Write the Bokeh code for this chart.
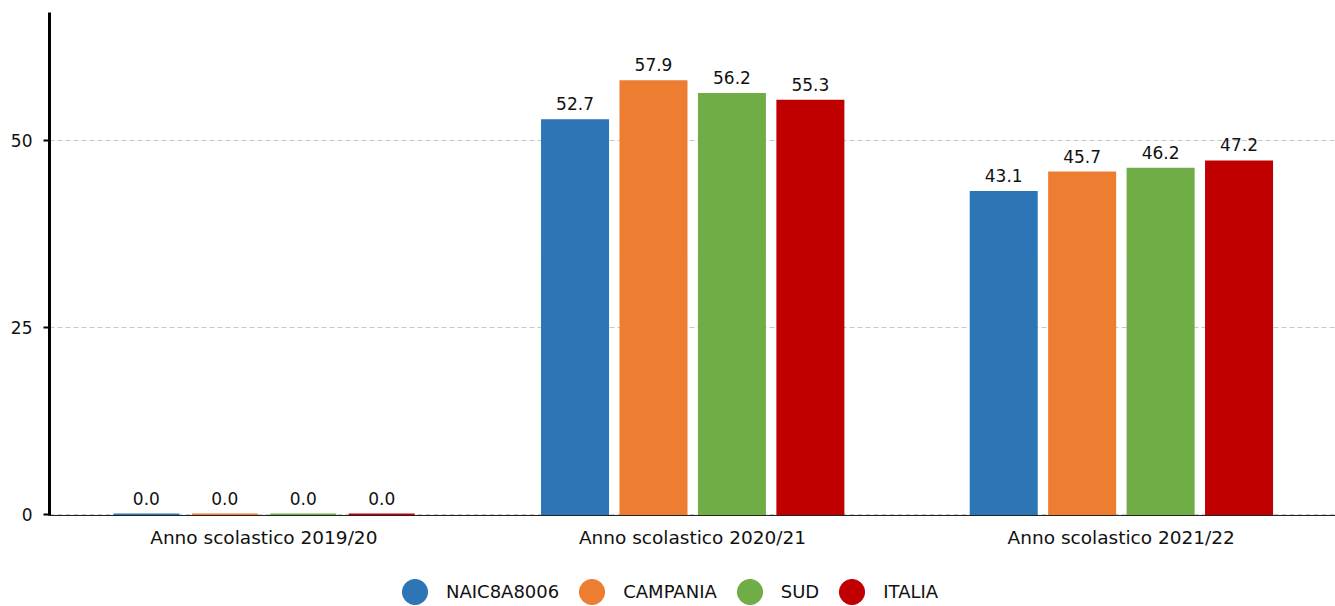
from bokeh.plotting import figure
from bokeh.models import ColumnDataSource, Legend, LegendItem, FactorRange, Range1d, FixedTicker
from bokeh.layouts import column
from bokeh.transform import dodge
from bokeh.core.properties import value
from bokeh.embed import file_html
from bokeh.resources import INLINE

categories = ["Anno scolastico 2019/20", "Anno scolastico 2020/21", "Anno scolastico 2021/22"]
series = ["NAIC8A8006", "CAMPANIA", "SUD", "ITALIA"]
naic = [0.0, 52.7, 43.1]
campania = [0.0, 57.9, 45.7]
sud = [0.0, 56.2, 46.2]
italia = [0.0, 55.3, 47.2]
colors = ["#2E75B6", "#ED7D31", "#70AD47", "#C00000"]
y_ticks = [0, 25, 50]

FONT = "DejaVu Sans"
W = 1335

values = [naic, campania, sud, italia]
data = {"cat": categories}
for name, vals in zip(series, values):
    data[name] = vals
    data[name + "_lbl"] = ["%.1f" % v for v in vals]
source = ColumnDataSource(data)

p = figure(
    x_range=FactorRange(*categories, range_padding=0),
    y_range=Range1d(-0.13, 67.1),
    width=W, height=570,
    output_backend="svg", toolbar_location=None,
    min_border_left=49, min_border_right=0, min_border_top=12, min_border_bottom=55,
)
p.outline_line_color = None

offsets = [-0.274, -0.091, 0.092, 0.275]
bar_w = 0.154

for name, off, col in zip(series, offsets, colors):
    p.vbar(x=dodge("cat", off, range=p.x_range), top=name, bottom=0, width=bar_w, source=source,
           fill_color=col, line_color=col, line_width=2, line_join="miter")
    p.text(x=dodge("cat", off, range=p.x_range), y=name, text=name + "_lbl", source=source,
           text_align="center", text_baseline="bottom", y_offset=-10,
           text_font=value(FONT), text_font_size="17px", text_color="#111111")

# axes
p.yaxis.ticker = FixedTicker(ticks=y_ticks)
p.yaxis.axis_line_width = 3
p.yaxis.axis_line_color = "black"
p.yaxis.major_tick_line_width = 2
p.yaxis.major_tick_line_color = "black"
p.yaxis.major_tick_out = 6
p.yaxis.major_tick_in = 0
p.yaxis.minor_tick_line_color = None
p.yaxis.major_label_standoff = 11
p.yaxis.major_label_text_font = FONT
p.yaxis.major_label_text_font_size = "17px"
p.yaxis.major_label_text_color = "#111111"

p.xaxis.axis_line_color = "#222222"
p.xaxis.axis_line_width = 1
p.xaxis.major_tick_line_color = None
p.xaxis.minor_tick_line_color = None
p.xaxis.major_label_standoff = 5
p.xaxis.major_label_text_font = FONT
p.xaxis.major_label_text_font_size = "18.5px"
p.xaxis.major_label_text_color = "#111111"

p.xgrid.grid_line_color = None
p.ygrid.ticker = FixedTicker(ticks=y_ticks)
p.ygrid.grid_line_color = "#c8c8c8"
p.ygrid.grid_line_dash = "5 3"
p.ygrid.grid_line_width = 1

# legend strip
lg = figure(width=W, height=36, x_range=Range1d(0, 1), y_range=Range1d(0, 1),
            output_backend="svg", toolbar_location=None,
            min_border=0, min_border_left=0, min_border_right=0, min_border_top=0, min_border_bottom=0)
lg.axis.visible = False
lg.grid.visible = False
lg.outline_line_color = None
items = []
for name, col in zip(series, colors):
    r = lg.scatter(x=[-5], y=[-5], marker="circle", fill_color=col, line_color=col)
    items.append(LegendItem(label=name, renderers=[r]))
legend = Legend(items=items, orientation="horizontal", location=(334, -17),
                glyph_width=63, glyph_height=63, label_standoff=0, spacing=1,
                padding=0, margin=0, border_line_color=None, background_fill_alpha=0,
                label_text_font=FONT, label_text_font_size="18px", label_text_color="#111111",
                label_text_baseline="middle")
lg.add_layout(legend, "center")

layout = column(p, lg, spacing=0)
open("out.html", "w").write(file_html(layout, INLINE))
